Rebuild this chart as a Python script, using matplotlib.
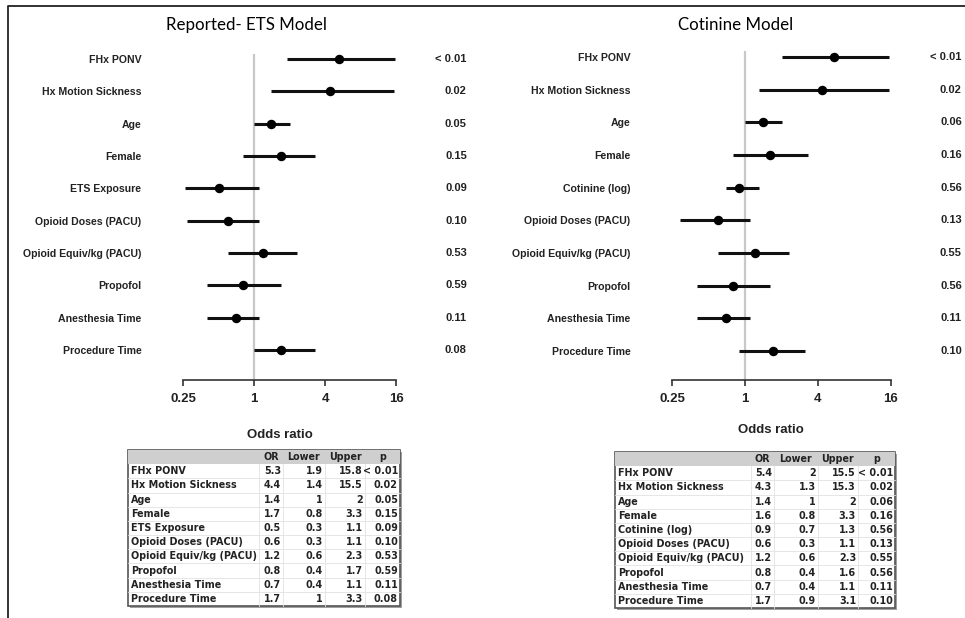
import numpy as np
import matplotlib.pyplot as plt
from matplotlib.patches import Rectangle
from matplotlib.ticker import NullLocator

W, H = 965, 618

# Reported-ETS model
names_ets = ['FHx PONV', 'Hx Motion Sickness', 'Age', 'Female', 'ETS Exposure',
             'Opioid Doses (PACU)', 'Opioid Equiv/kg (PACU)', 'Propofol',
             'Anesthesia Time', 'Procedure Time']
or_ets = [5.3, 4.4, 1.4, 1.7, 0.5, 0.6, 1.2, 0.8, 0.7, 1.7]
lower_ets = [1.9, 1.4, 1, 0.8, 0.26, 0.27, 0.6, 0.4, 0.4, 1]
upper_ets = [15.8, 15.5, 2, 3.3, 1.1, 1.1, 2.3, 1.7, 1.1, 3.3]
p_ets = ['< 0.01', '0.02', '0.05', '0.15', '0.09', '0.10', '0.53', '0.59', '0.11', '0.08']

# Cotinine model
names_cot = ['FHx PONV', 'Hx Motion Sickness', 'Age', 'Female', 'Cotinine (log)',
             'Opioid Doses (PACU)', 'Opioid Equiv/kg (PACU)', 'Propofol',
             'Anesthesia Time', 'Procedure Time']
or_cot = [5.4, 4.3, 1.4, 1.6, 0.9, 0.6, 1.2, 0.8, 0.7, 1.7]
lower_cot = [2, 1.3, 1, 0.8, 0.7, 0.29, 0.6, 0.4, 0.4, 0.9]
upper_cot = [15.5, 15.3, 2, 3.3, 1.3, 1.1, 2.3, 1.6, 1.1, 3.1]
p_cot = ['< 0.01', '0.02', '0.06', '0.16', '0.56', '0.13', '0.55', '0.56', '0.11', '0.10']

x_ticks = [0.25, 1, 4, 16]
x_tick_labels = ['0.25', '1', '4', '16']
table_header = ['OR', 'Lower', 'Upper', 'p']

plt.rcParams['font.family'] = ['Liberation Sans', 'DejaVu Sans']

fig = plt.figure(figsize=(W / 100, H / 100), dpi=100)

bg = fig.add_axes([0, 0, 1, 1])
bg.set_xlim(0, W)
bg.set_ylim(H, 0)
bg.axis('off')
bg.plot([8, 8, W], [H, 6, 6], color='#222222', lw=1.3)


def px_axes(x0, y0, x1, y1):
    return fig.add_axes([x0 / W, 1 - y1 / H, (x1 - x0) / W, (y1 - y0) / H])


def fmt(v):
    return f'{v:.1f}'.rstrip('0').rstrip('.')


def forest(box, ylim, names, est, lo, hi, pvals):
    ax = px_axes(*box)
    rows = np.arange(len(names))
    ax.set_facecolor('none')
    ax.set_xscale('log', base=2)
    ax.set_xlim(0.25, 16)
    ax.set_ylim(*ylim)
    ax.axvline(1, color='#c8c8c8', lw=1.6, zorder=0)
    ax.hlines(rows, lo, hi, color='#111111', lw=2.2, clip_on=False)
    ax.plot(est, rows, 'o', color='black', ms=5.8, clip_on=False)
    ax.set_yticks(rows, names)
    ax.tick_params(axis='y', length=0, pad=30, labelsize=7.6)
    ax.set_xticks(x_ticks, x_tick_labels)
    ax.xaxis.set_minor_locator(NullLocator())
    ax.tick_params(axis='x', direction='out', length=4.5, width=1.2, pad=5, labelsize=9.5,
                   color='#333333')
    for s in ['top', 'right', 'left']:
        ax.spines[s].set_visible(False)
    ax.spines['bottom'].set_linewidth(1.2)
    ax.spines['bottom'].set_color('#333333')
    for lab in ax.get_xticklabels() + ax.get_yticklabels():
        lab.set_fontweight('bold')
        lab.set_color('#222222')
    for i, p in enumerate(pvals):
        ax.annotate(p, xy=(1, rows[i]), xycoords=ax.get_yaxis_transform(),
                    xytext=(51, 0), textcoords='offset points', ha='right', va='center',
                    fontsize=8, fontweight='bold', color='#222222')
    return ax


def draw_table(edges, top, bottom, names, est, lo, hi, pvals):
    x0, x1 = edges[0], edges[-1]
    n = len(names) + 1
    rh = (bottom - top) / n
    bg.add_patch(Rectangle((x0 + 2, top + 2), x1 - x0, bottom - top, facecolor='#a0a0a0',
                           edgecolor='none'))
    bg.add_patch(Rectangle((x0, top), x1 - x0, bottom - top, facecolor='white',
                           edgecolor='#555555', lw=1.2, zorder=2))
    bg.add_patch(Rectangle((x0, top), x1 - x0, rh, facecolor='#cfcfcf', edgecolor='none', zorder=2))
    for i in range(2, n):
        bg.plot([x0, x1], [top + i * rh] * 2, color='#e2e2e2', lw=0.6, zorder=3)
    for xe in edges[1:-1]:
        bg.plot([xe, xe], [top + rh, bottom], color='#e2e2e2', lw=0.6, zorder=3)
    tk = dict(family='DejaVu Sans', fontsize=6.9, fontweight='bold', color='#222222',
              va='center', zorder=4)
    yc = top + rh / 2
    for j, h in enumerate(table_header):
        bg.text((edges[j + 1] + edges[j + 2]) / 2, yc, h, ha='center', **tk)
    for i in range(len(names)):
        yc = top + (i + 1.5) * rh
        bg.text(x0 + 3, yc, names[i], ha='left', **tk)
        cells = [fmt(est[i]), fmt(lo[i]), fmt(hi[i]), pvals[i]]
        for j, c in enumerate(cells):
            bg.text(edges[j + 2] - 2, yc, c, ha='right', **tk)


forest((183, 54, 396, 380), (9.93, -0.15), names_ets, or_ets, lower_ets, upper_ets, p_ets)
forest((672, 51, 891, 380), (9.89, -0.18), names_cot, or_cot, lower_cot, upper_cot, p_cot)

bg.text(246, 25, 'Reported- ETS Model', family='Lato', fontsize=12.2, ha='center', va='center')
bg.text(736, 25, 'Cotinine Model', family='Lato', fontsize=12.2, ha='center', va='center')
bg.text(280, 435, 'Odds ratio', fontsize=9.5, fontweight='bold', ha='center', va='center',
        color='#222222')
bg.text(771, 430, 'Odds ratio', fontsize=9.5, fontweight='bold', ha='center', va='center',
        color='#222222')

draw_table([128, 259, 283, 325, 365, 400], 450, 606, names_ets, or_ets, lower_ets, upper_ets, p_ets)
draw_table([615, 751, 774, 818, 858, 895], 452, 608, names_cot, or_cot, lower_cot, upper_cot, p_cot)

fig.savefig('out.png', dpi=100)
